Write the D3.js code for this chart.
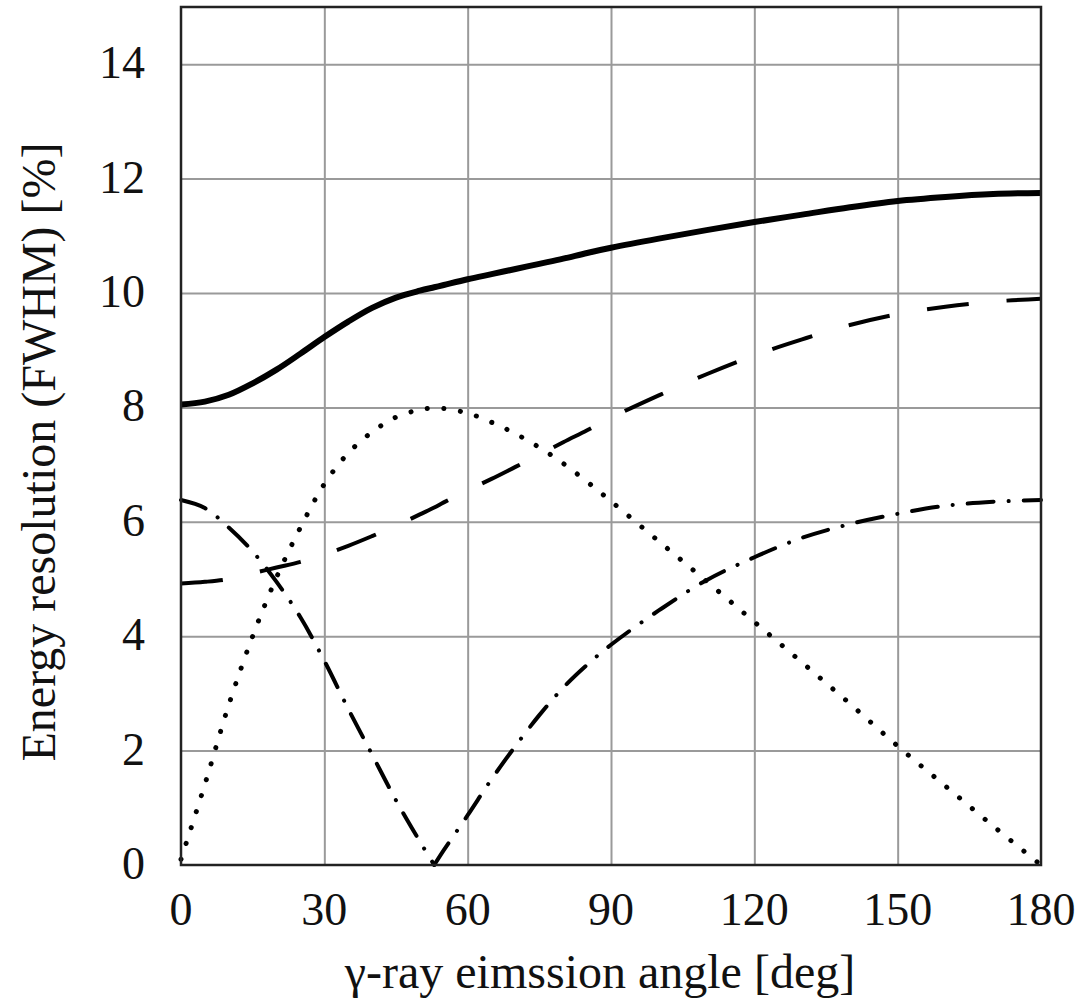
<!DOCTYPE html>
<html>
<head>
<meta charset="utf-8">
<script src="https://cdn.jsdelivr.net/npm/d3@7"></script>
<style>
  body { margin: 0; background: #fff; }
  svg text { font-family: 'Liberation Serif', 'DejaVu Serif', serif; fill: #111; }
</style>
</head>
<body>
<svg id="chart" width="1084" height="1004"></svg>
<script>
// emission angle [deg]
var angles = [0, 5, 10, 15, 20, 25, 30, 35, 40, 45, 50, 53, 55, 60, 65, 70, 75, 80, 85, 90, 100, 110, 120, 130, 140, 150, 160, 170, 180]

// energy resolution [%] for each curve
var totalRes = [8.05, 8.1, 8.22, 8.42, 8.66, 8.94, 9.23, 9.5, 9.74, 9.92, 10.04, 10.1, 10.14, 10.24, 10.33, 10.42, 10.51, 10.6, 10.7, 10.79, 10.95, 11.1, 11.24, 11.37, 11.5, 11.61, 11.68, 11.73, 11.75]
var dashedRes = [4.92, 4.95, 5.0, 5.1, 5.2, 5.3, 5.43, 5.58, 5.75, 5.93, 6.13, 6.25, 6.34, 6.55, 6.75, 6.96, 7.17, 7.39, 7.6, 7.82, 8.21, 8.58, 8.91, 9.19, 9.44, 9.63, 9.76, 9.85, 9.9]
var dottedRes = [0.1, 1.41, 2.8, 4.0, 5.03, 5.9, 6.66, 7.2, 7.57, 7.83, 7.96, 7.99, 7.98, 7.9, 7.74, 7.54, 7.3, 7.02, 6.7, 6.36, 5.66, 4.96, 4.25, 3.54, 2.82, 2.08, 1.38, 0.68, 0]
var dashDotRes = [6.38, 6.24, 5.9, 5.48, 4.95, 4.33, 3.57, 2.73, 1.93, 1.13, 0.41, 0, 0.26, 0.87, 1.5, 2.08, 2.62, 3.1, 3.5, 3.85, 4.45, 4.98, 5.38, 5.72, 5.96, 6.14, 6.28, 6.35, 6.38]

var xTicks = [0, 30, 60, 90, 120, 150, 180]
var yTicks = [0, 2, 4, 6, 8, 10, 12, 14]

var margin = { left: 181, right: 43, top: 7, bottom: 139 }
var width = 1084 - margin.left - margin.right
var height = 1004 - margin.top - margin.bottom

var svg = d3.select('#chart')
var g = svg.append('g').attr('transform', 'translate(' + margin.left + ',' + margin.top + ')')

var x = d3.scaleLinear().domain([0, 180]).range([0, width])
var y = d3.scaleLinear().domain([0, 15]).range([height, 0])

// ===== grid =====
g.append('g')
  .attr('transform', 'translate(0,' + height + ')')
  .call(d3.axisBottom(x).tickValues(xTicks.slice(1, -1)).tickSize(-height).tickFormat(''))
  .call(a => a.select('.domain').remove())
  .selectAll('line').attr('stroke', '#9a9a9a').attr('stroke-width', 2)

g.append('g')
  .call(d3.axisLeft(y).tickValues(yTicks.slice(1)).tickSize(-width).tickFormat(''))
  .call(a => a.select('.domain').remove())
  .selectAll('line').attr('stroke', '#9a9a9a').attr('stroke-width', 2)

// ===== curves =====
function pts (vals) {
  return angles.map((a, i) => [a, vals[i]])
}
var line = d3.line()
  .x(d => x(d[0]))
  .y(d => y(d[1]))
  .curve(d3.curveCatmullRom)

g.append('path')
  .attr('d', line(pts(totalRes)))
  .attr('fill', 'none').attr('stroke', '#000').attr('stroke-width', 6)

g.append('path')
  .attr('d', line(pts(dashedRes)))
  .attr('fill', 'none').attr('stroke', '#000').attr('stroke-width', 4)
  .attr('stroke-dasharray', '42,38')

g.append('path')
  .attr('d', line(pts(dottedRes)))
  .attr('fill', 'none').attr('stroke', '#000').attr('stroke-width', 5)
  .attr('stroke-linecap', 'round')
  .attr('stroke-dasharray', '0.1,16.6')

// dash-dot has a sharp minimum, so draw it in two halves
var dd = pts(dashDotRes)
var minIdx = angles.indexOf(53)
var ddParts = [dd.slice(0, minIdx + 1), dd.slice(minIdx)]
g.selectAll('.dashdot')
  .data(ddParts)
  .enter()
  .append('path')
  .attr('class', 'dashdot')
  .attr('d', d => line(d))
  .attr('fill', 'none').attr('stroke', '#000').attr('stroke-width', 4)
  .attr('stroke-linecap', 'round')
  .attr('stroke-dasharray', '26,15,0.1,15')

// frame
g.append('rect')
  .attr('width', width).attr('height', height)
  .attr('fill', 'none').attr('stroke', '#222').attr('stroke-width', 2.5)

// ===== tick labels =====
g.selectAll('.xlab')
  .data(xTicks)
  .enter()
  .append('text')
  .attr('x', d => x(d))
  .attr('y', height + 60)
  .attr('text-anchor', 'middle')
  .attr('font-size', 46)
  .text(d => d)

g.selectAll('.ylab')
  .data(yTicks)
  .enter()
  .append('text')
  .attr('x', -36)
  .attr('y', d => y(d) + 14)
  .attr('text-anchor', 'end')
  .attr('font-size', 46)
  .text(d => d)

// ===== axis titles =====
svg.append('text')
  .attr('x', 600)
  .attr('y', 988)
  .attr('text-anchor', 'middle')
  .attr('font-size', 48)
  .text('γ-ray eimssion angle [deg]')

svg.append('text')
  .attr('transform', 'translate(55,452) rotate(-90)')
  .attr('text-anchor', 'middle')
  .attr('font-size', 48)
  .text('Energy resolution (FWHM) [%]')
</script>
</body>
</html>
